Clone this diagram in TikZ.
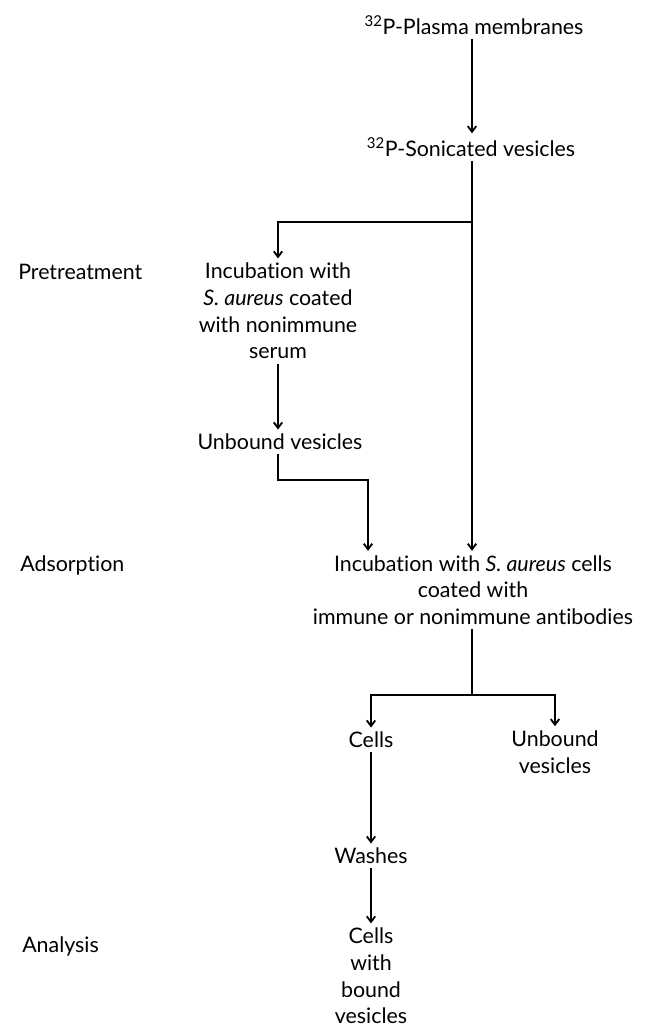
\documentclass[tikz,border=0pt]{standalone}
\usepackage{fontspec}
\setmainfont{Lato}[Ligatures=NoCommon]
\usepackage{tikz}
\usetikzlibrary{arrows.meta}

\tikzset{
  stage/.style={anchor=west, inner sep=0pt, font=\fontsize{15.2}{19}\selectfont},
  box text/.style={align=center, inner sep=0pt, font=\fontsize{15.2}{19}\selectfont},
  flow line/.style={line width=1.3pt},
  flow arrow/.style={line width=1.3pt, -{Straight Barb[length=4pt,width=6pt]}}
}

\begin{document}
\begin{tikzpicture}[x=0.025cm, y=-0.025cm]
\useasboundingbox (0,0) rectangle (649,1031);

% Stage names on the left
\node[stage] (pre) at (18,272) {Pretreatment};
\node[stage] (ads) at (20,565) {Adsorption};
\node[stage] (ana) at (22,946) {Analysis};

% Steps of the procedure
\node[box text] (plasma) at (474,25) {\textsuperscript{32}P-Plasma membranes};
\node[box text] (sonic) at (471,147) {\textsuperscript{32}P-Sonicated vesicles};
\node[box text] (incA) at (278,311) {Incubation with\\\textit{S. aureus} coated\\with nonimmune\\serum};
\node[box text] (unbA) at (280,442) {Unbound vesicles};
\node[box text] (incB) at (473,590) {Incubation with \textit{S. aureus} cells\\coated with\\immune or nonimmune antibodies};
\node[box text] (cells) at (371,740) {Cells};
\node[box text] (unbB) at (555,752) {Unbound\\vesicles};
\node[box text] (washes) at (371,856) {Washes};
\node[box text] (final) at (371,976) {Cells\\with\\bound\\vesicles};

% Branch points
\coordinate (split) at (472,222); % trunk splits to pretreatment
\coordinate (join) at (368,480);  % pretreated vesicles join
\coordinate (fork) at (472,695);  % cells / unbound vesicles

% Top of the trunk
\draw[flow arrow, shorten <=3pt, shorten >=3pt] (plasma.south -| split) -- (sonic.north -| split);
\draw[flow line, shorten <=3pt] (sonic.south -| split) -- (split);
\draw[flow arrow, shorten >=3pt] (split) -- (incB.north -| split);

% Pretreatment branch
\draw[flow arrow, shorten >=3pt] (split) -| (incA.north);
\draw[flow arrow, shorten <=3pt, shorten >=3pt] (incA.south) -- (unbA.north -| incA.south);
\draw[flow arrow, shorten <=3pt, shorten >=3pt] (unbA.south -| incA.south) |- (join) -- (incB.north -| join);

% Adsorption outcome
\draw[flow line, shorten <=3pt] (incB.south -| fork) -- (fork);
\draw[flow arrow, shorten >=3pt] (fork) -| (cells.north);
\draw[flow arrow, shorten >=3pt] (fork) -| (unbB.north);

% Washing
\draw[flow arrow, shorten <=3pt, shorten >=3pt] (cells.south) -- (washes.north);
\draw[flow arrow, shorten <=3pt, shorten >=3pt] (washes.south) -- (final.north);

\end{tikzpicture}
\end{document}
